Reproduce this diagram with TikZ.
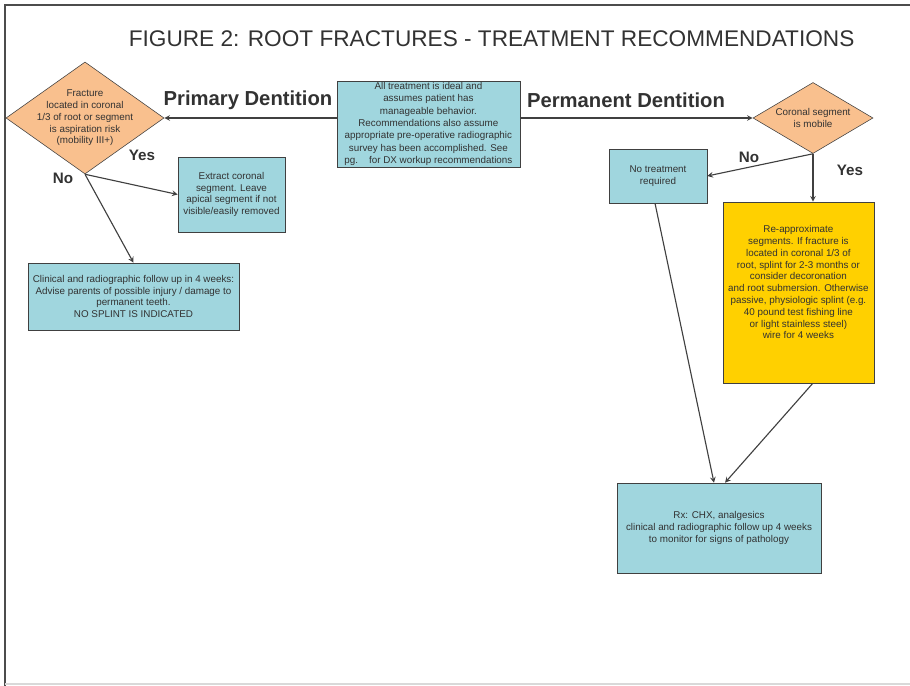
\documentclass[tikz,border=0pt]{standalone}
\usepackage{fontspec}
\setmainfont{Liberation Sans}
\usetikzlibrary{shapes.geometric,arrows,positioning}
\definecolor{boxteal}{RGB}{160,214,222}
\definecolor{decorange}{RGB}{249,192,142}
\definecolor{splintyellow}{RGB}{255,208,0}
\definecolor{edgegray}{RGB}{64,64,64}
\definecolor{textgray}{RGB}{50,50,50}
\tikzstyle{decision} = [diamond, draw=edgegray, fill=decorange, text=textgray,
align=center, inner sep=0pt, font=\fontsize{7}{8.4}\selectfont]
\tikzstyle{process} = [rectangle, draw=edgegray, fill=boxteal, text=textgray,
align=center, inner sep=1pt, font=\fontsize{7}{8.4}\selectfont]
\tikzstyle{splint} = [process, fill=splintyellow]
\tikzstyle{answer} = [font=\fontsize{10.8}{13}\selectfont\bfseries, text=textgray]
\tikzstyle{branch} = [font=\fontsize{14.4}{17}\selectfont\bfseries, text=textgray]
\tikzstyle{arrow} = [thick, draw=edgegray, ->, >=stealth]
\tikzset{>=stealth}

\begin{document}
\begin{tikzpicture}
            \useasboundingbox (0,0) rectangle (22.75,17.15);
            \draw[gray!60!black, line width=1.2pt] (0.125,0) -- (0.125,17.025) -- (22.75,17.025);
            \draw[gray!30, line width=0.8pt] (0.125,0.05) -- (22.75,0.05);
            \node[font=\fontsize{16.1}{19}\selectfont, text=textgray] (title) at (12.29,16.175)
            {FIGURE 2: ROOT FRACTURES - TREATMENT RECOMMENDATIONS};
            \node[process, minimum width=4.575cm, minimum height=2.15cm,
            font=\fontsize{7}{8.8}\selectfont] (ideal) at (10.71,14.05)
            {All treatment is ideal and\\ assumes patient has\\ manageable behavior.\\
            Recommendations also assume\\ appropriate pre-operative radiographic\\
            survey has been accomplished. See\\ pg.\ \ \ \ for DX workup recommendations};
            \node[decision, shape aspect=1.41, minimum width=3.95cm, minimum height=2.8cm,
            inner sep=-0.15cm] (aspir) at (2.125,14.2)
            {Fracture\\ located in coronal\\ 1/3 of root or segment\\ is aspiration risk\\ (mobility III+)};
            \node[decision, shape aspect=1.69, minimum width=3cm, minimum height=1.775cm] (mobile) at (20.325,14.2)
            {Coronal segment\\ is mobile};
            \node[branch] (primary) at (6.2,14.65) {Primary Dentition};
            \node[branch] (permanent) at (15.65,14.65) {Permanent Dentition};
            \draw[arrow] (aspir.east -| ideal.west) -- (aspir.east);
            \draw[arrow] (mobile.west -| ideal.east) -- (mobile.west);
            \node[process, minimum width=2.675cm, minimum height=1.875cm] (extract) at (5.7875,12.2875)
            {Extract coronal\\ segment. Leave\\ apical segment if not\\ visible/easily removed};
            \node[process, minimum width=5.275cm, minimum height=1.675cm] (follow) at (3.3375,9.7375)
            {Clinical and radiographic follow up in 4 weeks:\\ Advise parents of possible injury / damage to\\
            permanent teeth.\\ NO SPLINT IS INDICATED};
            \node[answer] (yesl) at (3.55,13.275) {Yes};
            \node[answer] (nol) at (1.575,12.7) {No};
            \draw[arrow] (aspir.south) -- (extract.west);
            \draw[arrow] (aspir.south) -- (follow.north);
            \node[process, minimum width=2.45cm, minimum height=1.35cm] (notreat) at (16.45,12.75)
            {No treatment\\ required};
            \node[splint, minimum width=3.775cm, minimum height=4.525cm] (reapprox) at (19.96,9.8375)
            {Re-approximate\\ segments. If fracture is\\ located in coronal 1/3 of\\
            root, splint for 2-3 months or\\ consider decoronation\\ and root submersion. Otherwise\\
            passive, physiologic splint (e.g.\\ 40 pound test fishing line\\ or light stainless steel)\\
            wire for 4 weeks\\[0.22cm]};
            \node[process, minimum width=5.1cm, minimum height=2.25cm] (rx) at (17.975,3.95)
            {Rx: CHX, analgesics\\ clinical and radiographic follow up 4 weeks\\ to monitor for signs of pathology};
            \node[answer] (nor) at (18.725,13.225) {No};
            \node[answer] (yesr) at (21.25,12.9) {Yes};
            \draw[arrow] (mobile.south) -- (notreat.east);
            \draw[arrow] (mobile.south) -- (mobile.south |- reapprox.north);
            \draw[arrow] ([xshift=-0.075cm]notreat.south) -- ([xshift=-0.125cm]rx.north);
            \draw[arrow] ([xshift=0.36cm]reapprox.south) -- ([xshift=0.15cm]rx.north);
\end{tikzpicture}
\end{document}
